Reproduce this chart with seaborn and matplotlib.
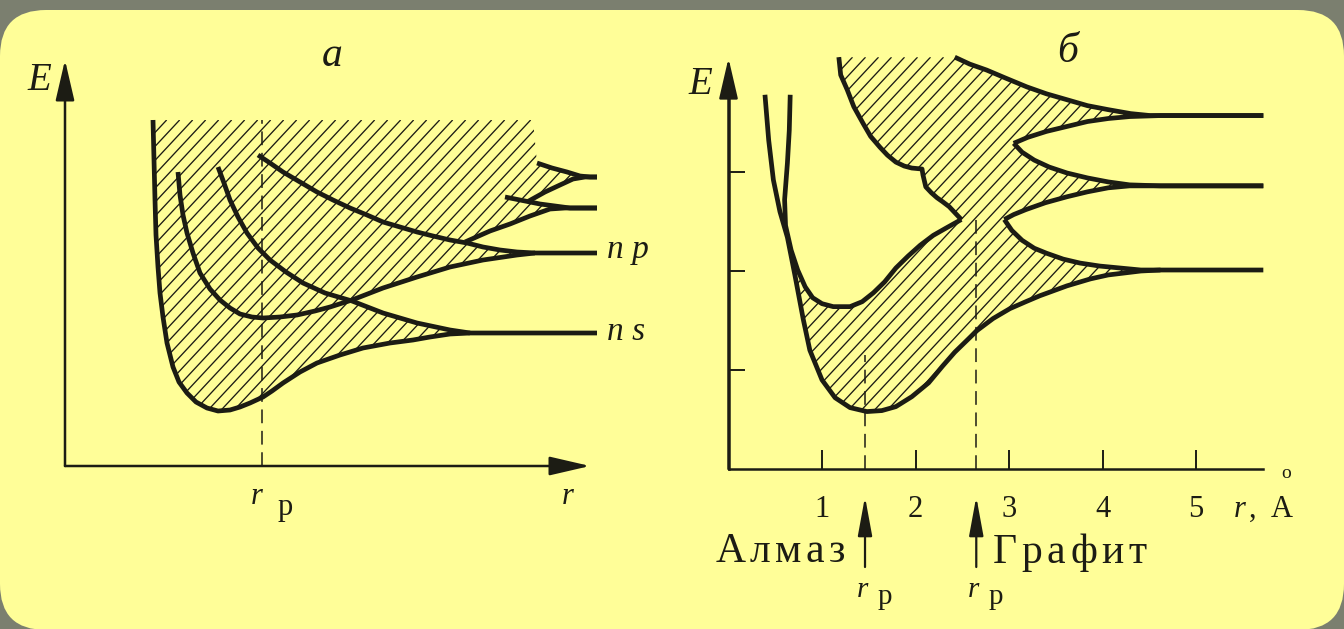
import numpy as np
import matplotlib
matplotlib.use("Agg")
import matplotlib.pyplot as plt
from matplotlib.patches import FancyBboxPatch, Polygon
from matplotlib.collections import LineCollection
from matplotlib.transforms import IdentityTransform, offset_copy
import seaborn as sns

sns.set_style("white")
plt.rcParams["font.family"] = ["Liberation Serif", "DejaVu Serif"]

INK = "#1c1c14"
PAPER = "#fffe98"
FRAME = "#7b7f6f"
W, H = 1344, 629

# ---------------- panel а: schematic levels vs. distance (arbitrary units)
a_top_E = 3.46          # upper edge of the shaded continuum
a_top_r = [0.88, 4.68]  # its left and right ends
a_rp = 1.97             # equilibrium distance

a_env_r = [0.88, 0.89, 0.90, 0.91, 0.93, 0.95, 0.98, 1.02, 1.08, 1.14, 1.22, 1.31, 1.42, 1.53, 1.65,
           1.75, 1.85, 1.98, 2.07, 2.18, 2.35, 2.52, 2.75, 2.98, 3.25, 3.48, 3.65, 3.85, 4.05, 5.32]
a_env_E = [3.46, 3.06, 2.66, 2.31, 1.99, 1.73, 1.49, 1.23, 0.99, 0.84, 0.73, 0.64, 0.58, 0.55, 0.56,
           0.59, 0.63, 0.69, 0.75, 0.83, 0.94, 1.03, 1.11, 1.18, 1.23, 1.26, 1.29, 1.32, 1.33, 1.33]

a_c1_r = [1.13, 1.15, 1.18, 1.22, 1.28, 1.35, 1.45, 1.55, 1.65, 1.75, 1.87, 1.98, 2.15, 2.32, 2.50,
          2.65, 2.87, 3.18, 3.52, 3.85, 4.18, 4.52, 4.70, 5.32]
a_c1_E = [2.94, 2.71, 2.51, 2.33, 2.13, 1.93, 1.77, 1.66, 1.58, 1.52, 1.49, 1.48, 1.49, 1.51, 1.55,
          1.59, 1.66, 1.78, 1.89, 1.99, 2.06, 2.11, 2.13, 2.13]

a_c2_r = [1.53, 1.59, 1.65, 1.73, 1.82, 1.93, 2.05, 2.21, 2.38, 2.60, 2.87, 3.18, 3.52, 3.85, 4.05]
a_c2_E = [2.99, 2.83, 2.66, 2.49, 2.33, 2.18, 2.06, 1.94, 1.83, 1.73, 1.65, 1.53, 1.43, 1.36, 1.33]

a_c3_r = [1.93, 2.05, 2.18, 2.35, 2.52, 2.68, 2.85, 3.02, 3.18, 3.35, 3.52, 3.68, 3.85, 4.02, 4.18,
          4.35, 4.52, 4.70]
a_c3_E = [3.11, 3.03, 2.94, 2.84, 2.74, 2.66, 2.58, 2.51, 2.44, 2.39, 2.34, 2.30, 2.26, 2.23, 2.19,
          2.16, 2.14, 2.13]

a_mid_lo_r = [4.00, 4.25, 4.45, 4.65, 4.85, 5.00, 5.32]
a_mid_lo_E = [2.24, 2.35, 2.42, 2.50, 2.57, 2.58, 2.58]
a_mid_up_r = [4.40, 4.55, 4.75, 4.90, 5.05, 5.32]
a_mid_up_E = [2.69, 2.66, 2.62, 2.60, 2.58, 2.58]
a_hi_lo_r = [4.62, 4.80, 4.95, 5.08, 5.20, 5.32]
a_hi_lo_E = [2.64, 2.74, 2.81, 2.87, 2.89, 2.89]
a_hi_up_r = [4.72, 4.87, 5.02, 5.15, 5.25, 5.32]
a_hi_up_E = [3.03, 2.98, 2.94, 2.90, 2.89, 2.89]

# ---------------- panel б: carbon, r in angstrom
b_xticks = [1, 2, 3, 4, 5]
b_xticklabels = ["1", "2", "3", "4", "5"]
b_yticks = [1, 2, 3]
b_rp_diamond = 1.46
b_rp_graphite = 2.65

b_lo_r = [0.39, 0.43, 0.48, 0.55, 0.63, 0.71, 0.80, 0.87, 1.00, 1.14, 1.30, 1.48, 1.64, 1.79, 1.96,
          2.14, 2.29, 2.42, 2.54, 2.66, 2.83, 3.01, 3.18, 3.33, 3.62, 3.87, 4.06, 4.41, 4.62, 5.72]
b_lo_E = [3.78, 3.32, 2.92, 2.60, 2.34, 1.96, 1.51, 1.20, 0.90, 0.72, 0.62, 0.58, 0.59, 0.63, 0.73,
          0.87, 1.04, 1.18, 1.29, 1.40, 1.52, 1.62, 1.69, 1.75, 1.85, 1.92, 1.96, 2.00, 2.01, 2.01]

b_up_r = [0.66, 0.65, 0.63, 0.60, 0.61, 0.67, 0.74, 0.82, 0.90, 1.00, 1.12, 1.30, 1.43, 1.55, 1.67,
          1.79, 1.92, 2.05, 2.19, 2.32, 2.49]
b_up_E = [3.78, 3.42, 3.09, 2.72, 2.46, 2.21, 2.01, 1.84, 1.73, 1.67, 1.64, 1.64, 1.69, 1.78, 1.89,
          2.03, 2.15, 2.26, 2.36, 2.43, 2.52]

b_edge_r = [1.18, 1.20, 1.27, 1.34, 1.44, 1.52, 1.62, 1.70, 1.79, 1.88, 1.96, 2.07, 2.08, 2.11, 2.17,
            2.23, 2.29, 2.36, 2.42, 2.49]
b_edge_E = [4.16, 3.98, 3.83, 3.66, 3.49, 3.36, 3.25, 3.17, 3.10, 3.06, 3.04, 3.03, 2.97, 2.85, 2.79,
            2.74, 2.70, 2.65, 2.59, 2.52]

b_band1_up_r = [2.95, 3.03, 3.14, 3.27, 3.40, 3.58, 3.76, 3.97, 4.19, 4.41, 4.62]
b_band1_up_E = [2.52, 2.41, 2.31, 2.23, 2.18, 2.12, 2.08, 2.05, 2.03, 2.01, 2.01]
b_band2_lo_r = [2.95, 3.05, 3.18, 3.39, 3.62, 3.84, 4.06, 4.29, 4.62, 5.72]
b_band2_lo_E = [2.52, 2.57, 2.62, 2.69, 2.75, 2.80, 2.84, 2.86, 2.86, 2.86]
b_band2_up_r = [3.05, 3.14, 3.27, 3.43, 3.62, 3.84, 4.06, 4.29, 4.62, 5.72]
b_band2_up_E = [3.29, 3.20, 3.12, 3.05, 2.99, 2.94, 2.90, 2.87, 2.86, 2.86]
b_band3_lo_r = [3.05, 3.20, 3.40, 3.62, 3.84, 4.06, 4.29, 4.62, 5.72]
b_band3_lo_E = [3.29, 3.35, 3.41, 3.46, 3.51, 3.54, 3.56, 3.57, 3.57]
b_band3_up_r = [2.42, 2.58, 2.76, 2.96, 3.19, 3.40, 3.62, 3.84, 4.06, 4.30, 4.51, 4.62, 5.72]
b_band3_up_E = [4.16, 4.09, 4.03, 3.95, 3.86, 3.79, 3.73, 3.67, 3.63, 3.59, 3.57, 3.57, 3.57]


def seg(r, E, lo=-np.inf, hi=np.inf, rev=False):
    r = np.asarray(r, float)
    E = np.asarray(E, float)
    m = (r >= lo) & (r <= hi)
    rr, ee = r[m], E[m]
    if rev:
        rr, ee = rr[::-1], ee[::-1]
    return rr, ee


def join(*parts):
    return (np.concatenate([p[0] for p in parts]), np.concatenate([p[1] for p in parts]))


def curve(ax, r, E, lw=3.4):
    sns.lineplot(x=list(r), y=list(E), sort=False, estimator=None, ax=ax, color=INK,
                 linewidth=lw, solid_capstyle="butt", solid_joinstyle="round", zorder=3)


def dashed(ax, r, E0, E1):
    sns.lineplot(x=[r, r], y=[E0, E1], sort=False, estimator=None, ax=ax, color=INK,
                 linewidth=1.1, linestyle=(0, (9, 5)), zorder=2)


def shade(ax, r, E, step_px=13, angle=47, lw=0.95):
    """Diagonal ruling clipped to the closed outline (r, E)."""
    poly = Polygon(np.column_stack([r, E]), closed=True, facecolor="none", edgecolor="none")
    ax.add_patch(poly)
    to_px = ax.transData.get_matrix()
    sx, sy = to_px[0, 0], to_px[1, 1]
    xp, yp = np.asarray(r) * sx, np.asarray(E) * sy
    t = np.tan(np.radians(angle))
    c = xp - yp / t
    cs = np.arange(np.floor(c.min() / step_px) * step_px, c.max() + step_px, step_px)
    y0, y1 = yp.min(), yp.max()
    segs = [[((ci + y0 / t) / sx, y0 / sy), ((ci + y1 / t) / sx, y1 / sy)] for ci in cs]
    lc = LineCollection(segs, colors=INK, linewidths=lw, zorder=1)
    ax.add_collection(lc, autolim=False)
    lc.set_clip_path(poly)


def arrow(ax, xy, xytext, hl=1.25, hw=0.29, lw=1.8):
    ax.annotate("", xy=xy, xytext=xytext,
                arrowprops=dict(arrowstyle=f"-|>,head_length={hl},head_width={hw}",
                                color=INK, lw=lw, mutation_scale=20, shrinkA=0, shrinkB=0))


def spaced(ax, x, y, s, size, gap_px, ha="left"):
    """Letter-spaced text with its baseline at (x, y)."""
    rend = fig.canvas.get_renderer()
    widths = []
    for ch in s:
        t = ax.text(0, 0, ch, fontsize=size)
        widths.append(t.get_window_extent(rend).width)
        t.remove()
    total = sum(widths) + gap_px * (len(s) - 1)
    off = 0.0 if ha == "left" else -total
    for ch, w in zip(s, widths):
        tr = offset_copy(ax.transData, fig=fig, x=off, y=0, units="dots")
        ax.text(x, y, ch, fontsize=size, transform=tr, ha="left", va="baseline", color=INK)
        off += w + gap_px


def panel_axes(fig, origin, scale, xlim, ylim):
    ox, oy = origin
    sx, sy = scale
    left, right = ox + xlim[0] * sx, ox + xlim[1] * sx
    top, bottom = oy - ylim[1] * sy, oy - ylim[0] * sy
    ax = fig.add_axes([left / W, 1 - bottom / H, (right - left) / W, (bottom - top) / H])
    ax.set_xlim(xlim)
    ax.set_ylim(ylim)
    ax.patch.set_alpha(0)
    return ax


fig = plt.figure(figsize=(W / 100, H / 100), dpi=100, facecolor=FRAME)
fig.patches.append(FancyBboxPatch((0, -1), W, H - 9, boxstyle="round,pad=0,rounding_size=46",
                                  transform=IdentityTransform(), facecolor=PAPER,
                                  edgecolor="none", zorder=-5))

# ======================= panel а =======================
ax = panel_axes(fig, (65, 466), (100, 100), (-0.6, 6.0), (-1.5, 4.3))
for s in ax.spines.values():
    s.set_visible(False)
ax.set_xticks([])
ax.set_yticks([])

hr, hE = join(
    (np.array(a_top_r), np.array([a_top_E, a_top_E])),
    seg(a_hi_up_r, a_hi_up_E, hi=5.2),
    seg(a_hi_lo_r, a_hi_lo_E, hi=5.2, rev=True),
    seg(a_mid_up_r, a_mid_up_E, lo=4.62, hi=5.05),
    seg(a_mid_lo_r, a_mid_lo_E, hi=5.05, rev=True),
    seg(a_c3_r, a_c3_E, lo=4.0, hi=4.70),
    seg(a_c1_r, a_c1_E, lo=2.87, hi=4.70, rev=True),
    seg(a_c2_r, a_c2_E, lo=2.87),
    seg(a_env_r, a_env_E, hi=4.05, rev=True),
)
shade(ax, hr, hE)

for r, E in [(a_env_r, a_env_E), (a_c1_r, a_c1_E), (a_c2_r, a_c2_E), (a_c3_r, a_c3_E),
             (a_mid_lo_r, a_mid_lo_E), (a_mid_up_r, a_mid_up_E),
             (a_hi_lo_r, a_hi_lo_E), (a_hi_up_r, a_hi_up_E)]:
    curve(ax, r, E)
dashed(ax, a_rp, 0, a_top_E)

arrow(ax, (0, 4.06), (0, 0))
arrow(ax, (5.25, 0), (0, 0))

ax.text(-0.26, 3.85, "E", fontsize=28, style="italic", ha="center", va="center", color=INK)
ax.text(2.67, 4.10, "а", fontsize=30, style="italic", ha="center", va="center", color=INK)
ax.text(5.03, -0.31, "r", fontsize=22, style="italic", ha="center", va="center", color=INK)
ax.text(1.92, -0.31, "r", fontsize=22, style="italic", ha="center", va="center", color=INK)
ax.text(2.20, -0.41, "р", fontsize=22, ha="center", va="center", color=INK)
ax.text(5.42, 2.08, "n p", fontsize=24, style="italic", ha="left", va="baseline", color=INK)
ax.text(5.42, 1.26, "n s", fontsize=24, style="italic", ha="left", va="baseline", color=INK)

# ======================= panel б =======================
bx = panel_axes(fig, (728.5, 469), (93.5, 99), (-0.8, 6.2), (-1.55, 4.4))
bx.spines["top"].set_visible(False)
bx.spines["right"].set_visible(False)
for side in ("left", "bottom"):
    bx.spines[side].set_position(("data", 0))
    bx.spines[side].set_color(INK)
    bx.spines[side].set_linewidth(1.8)
bx.spines["bottom"].set_bounds(0, 5.72)
bx.spines["left"].set_bounds(0, 4.0)
bx.set_xticks(b_xticks, labels=b_xticklabels)
bx.set_yticks(b_yticks, labels=[])
bx.tick_params(axis="x", bottom=True, direction="in", length=13.5, width=1.4, pad=19,
               labelsize=22, color=INK, labelcolor=INK)
bx.tick_params(axis="y", left=True, direction="in", length=11.5, width=1.4, color=INK)

br, bE = join(
    seg(b_lo_r, b_lo_E, lo=0.63, hi=4.62),
    seg(b_band1_up_r, b_band1_up_E, rev=True),
    seg(b_band2_lo_r, b_band2_lo_E, hi=4.62),
    seg(b_band2_up_r, b_band2_up_E, hi=4.62, rev=True),
    seg(b_band3_lo_r, b_band3_lo_E, hi=4.62),
    seg(b_band3_up_r, b_band3_up_E, hi=4.62, rev=True),
    (np.array(b_edge_r), np.array(b_edge_E)),
    (np.array(b_up_r[5:])[::-1], np.array(b_up_E[5:])[::-1]),
)
shade(bx, br, bE)

for r, E in [(b_lo_r, b_lo_E), (b_up_r, b_up_E), (b_edge_r, b_edge_E),
             (b_band1_up_r, b_band1_up_E), (b_band2_lo_r, b_band2_lo_E),
             (b_band2_up_r, b_band2_up_E), (b_band3_lo_r, b_band3_lo_E),
             (b_band3_up_r, b_band3_up_E)]:
    curve(bx, r, E)

dashed(bx, b_rp_diamond, 0, 1.15)
dashed(bx, b_rp_graphite, 0, 2.54)
arrow(bx, (0, 4.15), (0, 0))
arrow(bx, (b_rp_diamond, -0.28), (b_rp_diamond, -0.99), hl=1.2, hw=0.22, lw=1.6)
arrow(bx, (b_rp_graphite, -0.28), (b_rp_graphite, -0.99), hl=1.2, hw=0.22, lw=1.6)

bx.text(-0.30, 3.88, "E", fontsize=28, style="italic", ha="center", va="center", color=INK)
bx.text(3.63, 4.21, "б", fontsize=30, style="italic", ha="center", va="center", color=INK)
bx.text(5.40, -0.485, "r", fontsize=22, style="italic", ha="left", va="baseline", color=INK)
bx.text(5.57, -0.485, ",", fontsize=22, ha="left", va="baseline", color=INK)
bx.text(5.80, -0.485, "A", fontsize=22, ha="left", va="baseline", color=INK)
bx.text(5.96, -0.09, "o", fontsize=14, ha="center", va="baseline", color=INK)
spaced(bx, 1.25, -0.94, "Алмаз", 30, 4.5, ha="right")
spaced(bx, 2.83, -0.95, "Графит", 30, 4.5, ha="left")
for x0 in (b_rp_diamond, b_rp_graphite):
    bx.text(x0 - 0.03, -1.22, "r", fontsize=21, style="italic", ha="center", va="center", color=INK)
    bx.text(x0 + 0.21, -1.29, "р", fontsize=21, ha="center", va="center", color=INK)

fig.savefig("out.png", dpi=100, facecolor=fig.get_facecolor())
